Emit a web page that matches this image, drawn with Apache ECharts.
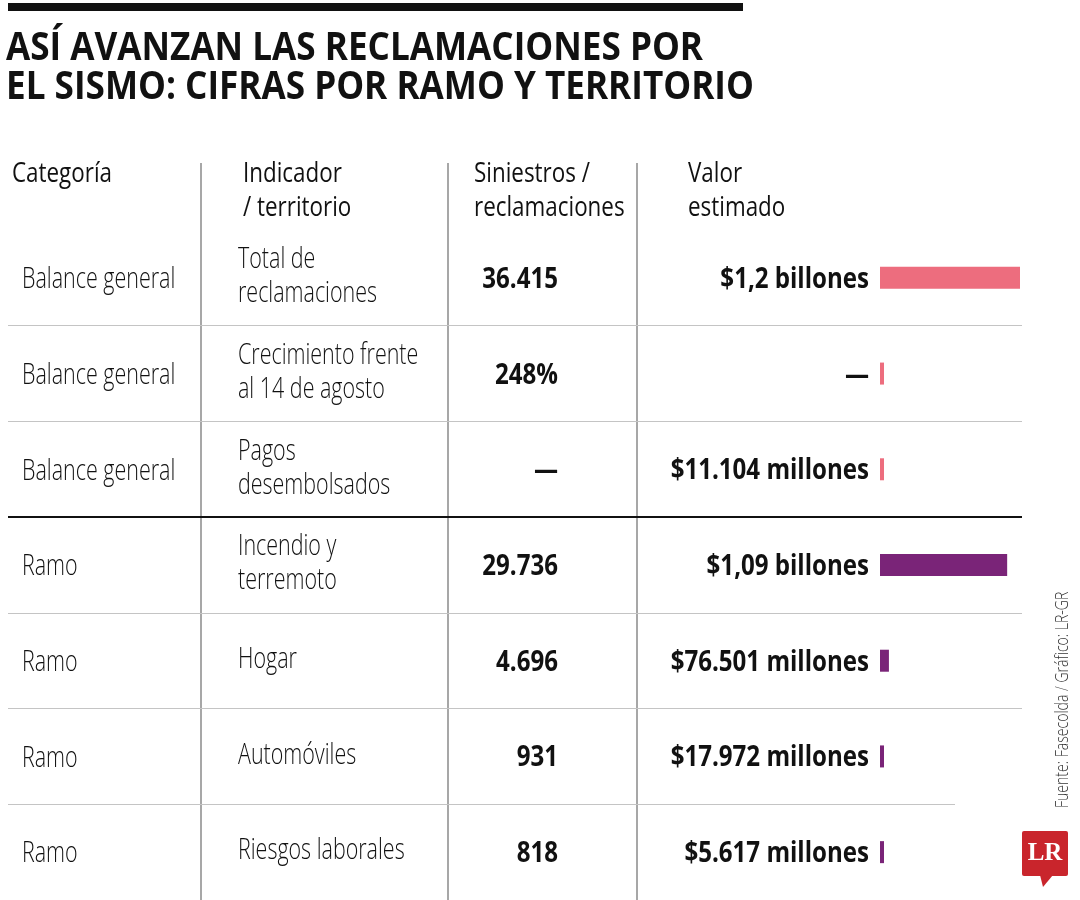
<!DOCTYPE html>
<html>
<head>
  <meta charset="utf-8">
  <title>reclamaciones sismo</title>
  <script src="https://cdn.jsdelivr.net/npm/echarts@6/dist/echarts.min.js"></script>
  <style>
    html, body { margin: 0; padding: 0; background: #fff; }
    #main { width: 1080px; height: 900px; }
  </style>
</head>
<body>
  <div id="main"></div>
  <script type="text/javascript">
    // datos de la tabla
    var categorias = ['Balance general', 'Balance general', 'Balance general', 'Ramo', 'Ramo', 'Ramo', 'Ramo'];
    var indicadores = ['Total de\nreclamaciones', 'Crecimiento frente\nal 14 de agosto', 'Pagos\ndesembolsados',
                       'Incendio y\nterremoto', 'Hogar', 'Automóviles', 'Riesgos laborales'];
    var siniestros = ['36.415', '248%', '—', '29.736', '4.696', '931', '818'];
    var valorTexto = ['$1,2 billones', '—', '$11.104 millones', '$1,09 billones',
                      '$76.501 millones', '$17.972 millones', '$5.617 millones'];
    // valor estimado en billones de pesos
    var valorBillones = [1.2, 0, 0.011104, 1.09, 0.076501, 0.017972, 0.005617];
    var grupos = ['balance', 'balance', 'balance', 'ramo', 'ramo', 'ramo', 'ramo'];
    var encabezados = ['Categoría', 'Indicador\n/ territorio', 'Siniestros /\nreclamaciones', 'Valor\nestimado'];

    var colores = { balance: '#ed6d7e', ramo: '#7a2478' };
    var fuente = "'Open Sans', 'Noto Sans', sans-serif";
    var filas = categorias.map(function (c, i) { return 'f' + i; });

    // la tipografia original es condensada: se estrecha en horizontal
    var escalaFina = 0.74, escalaNegrita = 0.86, escalaTitulo = 0.9, escalaEnc = 0.8;

    var chart = echarts.init(document.getElementById('main'));

    var gris = '#c4c4c4';
    var T = 'rgba(0,0,0,0)';

    function texto(x, y, t, align, bold) {
      return {
        type: 'text', x: x, y: y, scaleX: bold ? escalaNegrita : escalaFina,
        style: {
          text: t, fill: '#111', align: align, verticalAlign: 'middle',
          font: (bold ? 'bold 28px ' : '300 29px ') + fuente, lineHeight: 34
        }
      };
    }

    function lineasFila(colores, ancho) {
      return {
        show: true, interval: 0, lineStyle: { width: ancho, color: colores }
      };
    }

    function ejeFilas(grid, split) {
      return {
        type: 'category', gridIndex: grid, data: filas, inverse: true,
        axisLine: { show: false }, axisTick: { show: false }, axisLabel: { show: false },
        splitLine: split
      };
    }

    function encabezado(x, y, t) {
      return {
        type: 'text', x: x, y: y, scaleX: escalaEnc,
        style: { text: t, font: '28px ' + fuente, lineHeight: 34, fill: '#111', verticalAlign: 'middle' }
      };
    }

    var option = {
      backgroundColor: '#fff',
      animation: false,
      grid: [
        { left: 8, top: 230, width: 1014, height: 673 },
        { left: 880, top: 230, width: 140, height: 673 },
        { left: 8, top: 230, width: 947, height: 673 }
      ],
      xAxis: [
        { type: 'value', gridIndex: 0, min: 0, max: 1, show: false },
        { type: 'value', gridIndex: 1, min: 0, max: 1.2, show: false },
        { type: 'value', gridIndex: 2, min: 0, max: 1, show: false }
      ],
      yAxis: [
        // lineas grises entre filas
        ejeFilas(0, lineasFila([T, gris, gris, T, gris, gris, T, T], 1.2)),
        // linea negra entre balance y ramo
        ejeFilas(0, lineasFila([T, T, T, '#111', T, T, T, T], 2)),
        // eje de las barras
        ejeFilas(1, { show: false }),
        // linea corta de la ultima fila
        ejeFilas(2, lineasFila([T, T, T, T, T, T, gris, T], 1.2))
      ],
      series: [
        {
          type: 'bar', xAxisIndex: 1, yAxisIndex: 2,
          barWidth: 22, barMinHeight: 4,
          data: valorBillones.map(function (v, i) {
            return { value: v, itemStyle: { color: colores[grupos[i]] } };
          })
        },
        {
          // textos de cada fila, colocados con la escala del eje de filas
          type: 'custom', xAxisIndex: 0, yAxisIndex: 0, clip: false, silent: true,
          data: filas.map(function (f, i) { return [0, i]; }),
          encode: { x: 0, y: 1 },
          renderItem: function (params, api) {
            var i = params.dataIndex;
            var y = api.coord([0, i])[1] + 2;
            return {
              type: 'group',
              children: [
                texto(22, y, categorias[i], 'left', false),
                texto(238, y - 3, indicadores[i], 'left', false),
                texto(558, y, siniestros[i], 'right', true),
                texto(869, y, valorTexto[i], 'right', true)
              ]
            };
          }
        }
      ],
      graphic: [
        { type: 'rect', shape: { x: 8, y: 3, width: 735, height: 8 }, style: { fill: '#111' } },
        {
          type: 'text', x: 6, y: 68, scaleX: escalaTitulo,
          style: {
            text: 'ASÍ AVANZAN LAS RECLAMACIONES POR\nEL SISMO: CIFRAS POR RAMO Y TERRITORIO',
            font: "bold 39px " + fuente, lineHeight: 39, fill: '#111', verticalAlign: 'middle'
          }
        },
        encabezado(12, 174, encabezados[0]),
        encabezado(243, 191, encabezados[1]),
        encabezado(474, 191, encabezados[2]),
        encabezado(688, 191, encabezados[3]),
        // separadores de columnas
        { type: 'line', shape: { x1: 201, y1: 163, x2: 201, y2: 900 }, style: { stroke: '#8a8a8a', lineWidth: 1.5 } },
        { type: 'line', shape: { x1: 448, y1: 163, x2: 448, y2: 900 }, style: { stroke: '#8a8a8a', lineWidth: 1.5 } },
        { type: 'line', shape: { x1: 637, y1: 163, x2: 637, y2: 900 }, style: { stroke: '#8a8a8a', lineWidth: 1.5 } },
        // fuente
        {
          type: 'text', x: 1063, y: 808, rotation: Math.PI / 2, scaleX: 0.78,
          style: {
            text: 'Fuente: Fasecolda / Gráfico: LR-GR', font: '300 18px ' + fuente,
            fill: '#333', align: 'left', verticalAlign: 'middle'
          }
        },
        // logo LR
        { type: 'rect', shape: { x: 1022, y: 831, width: 46, height: 45, r: 2 }, style: { fill: '#c9252c' } },
        { type: 'polygon', shape: { points: [[1040, 875], [1053, 875], [1043, 887]] }, style: { fill: '#c9252c' } },
        {
          type: 'text', x: 1045, y: 854,
          style: {
            text: 'LR', font: "bold 25px 'Liberation Serif', 'DejaVu Serif', serif",
            fill: '#fff', align: 'center', verticalAlign: 'middle'
          }
        }
      ]
    };

    chart.setOption(option);
  </script>
</body>
</html>
